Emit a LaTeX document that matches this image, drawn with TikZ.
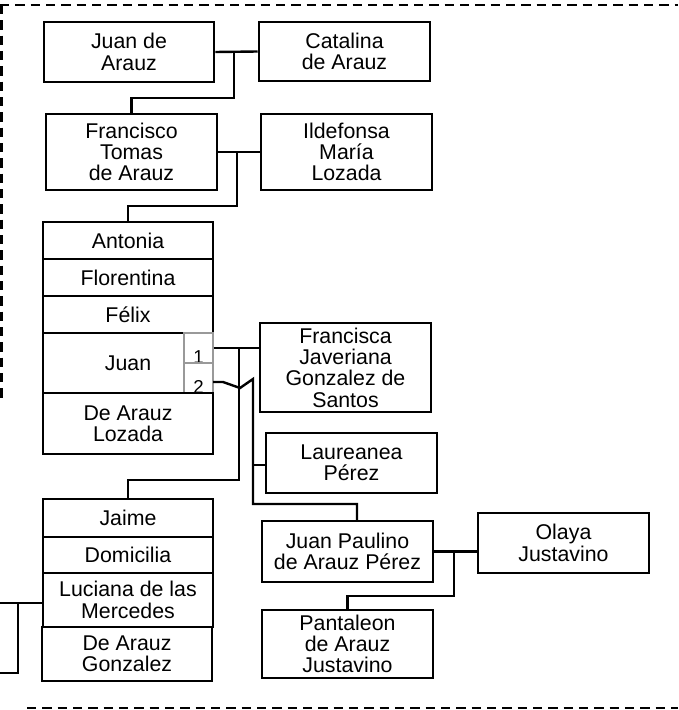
\documentclass[tikz,border=0pt]{standalone}
\usepackage{fontspec}
\setmainfont{Liberation Sans}
\usetikzlibrary{calc}
\begin{document}
\begin{tikzpicture}[x=0.75pt,y=-0.75pt,
  box/.style={draw, line width=1.9pt, inner sep=0pt, align=center, font=\fontsize{16}{16}\selectfont},
  sz/.style 2 args={minimum width={#1*0.75pt}, minimum height={#2*0.75pt}},
  conn/.style={line width=1.8pt},
  frame/.style={line width=1.8pt, dash pattern=on 7pt off 4.5pt},
  cell/.style={draw=gray!80, line width=1pt, inner sep=0pt, minimum width={29*0.75pt}, minimum height={30*0.75pt}},
  num/.style={font=\fontsize{14}{14}\selectfont, anchor=base, inner sep=0pt}]
\useasboundingbox (0,0) rectangle (678,710);

% frame
\draw[frame] (0,5) -- (678,5);
\draw[frame] (1.5,5) -- (1.5,403);
\draw[frame] (27,708) -- (678,708);

% boxes
\node[box, sz={170}{60}] (jda) at (129,52) {Juan de\\Arauz};
\node[box, sz={171}{59}] (cat) at (344.5,51.5) {Catalina\\de Arauz};
\node[box, sz={171}{76}] (fra) at (131.5,152) {Francisco\\Tomas\\de Arauz};
\node[box, sz={171}{76}] (ild) at (346.5,152) {Ildefonsa\\María\\Lozada};
\node[box, sz={170}{37}] (ant) at (128,240.5) {Antonia};
\node[box, sz={170}{37}] (flo) at (128,277.5) {Florentina};
\node[box, sz={170}{37}] (fel) at (128,314.5) {Félix};
\node[box, sz={170}{60}] (juan) at (128,363) {Juan};
\node[cell, label={[num]south:1}] (c1) at (198.5,348) {};
\node[cell, label={[num]south:2}] (c2) at (198.5,378) {};
\node[box, sz={170}{61}] (dal) at (128,423.5) {De Arauz\\Lozada};
\node[box, sz={171}{89}] (fjg) at (345.5,367.5) {Francisca\\Javeriana\\Gonzalez de\\Santos};
\node[box, sz={171}{60}] (lau) at (351.5,463) {Laureanea\\Pérez};
\node[box, sz={170}{38}] (jai) at (128,518) {Jaime};
\node[box, sz={170}{36}] (dom) at (128,555) {Domicilia};
\node[box, sz={170}{54}] (luc) at (128,600) {Luciana de las\\Mercedes};
\node[box, sz={170}{54}] (dag) at (127,654) {De Arauz\\Gonzalez};
\node[box, sz={171}{61}] (jpp) at (347.5,551.5) {Juan Paulino\\de Arauz Pérez};
\node[box, sz={171}{60}] (ola) at (563.5,543) {Olaya\\Justavino};
\node[box, sz={171}{68}] (pan) at (347.5,644) {Pantaleon\\de Arauz\\Justavino};

% connectors
\coordinate (m1) at (234,52);
\draw[conn] (jda.east) -- (cat.west);
\draw[conn] (m1) -- (234,98) -- (131.5,98) -- (fra.north);

\coordinate (m2) at (237,152);
\draw[conn] (fra.east) -- (ild.west);
\draw[conn] (m2) -- (237,206) -- (128,206) -- (ant.north);

\coordinate (m3) at (239,348);
\draw[conn] (c1.east) -- (c1.east -| fjg.west);
\draw[conn] (m3) -- (239,480) -- (128,480) -- (jai.north);

\coordinate (s2) at (213,382);
\coordinate (m4) at (253,465);
\draw[conn] (s2) -- (223,382) -- (240,388) -- (253,379) -- (253,504) -- (357,504) -- (357,521);
\draw[conn] (m4) -- (m4 -| lau.west);

\coordinate (m5) at (454,551.5);
\draw[conn] (jpp.east) -- (jpp.east -| ola.west);
\draw[conn] (m5) -- (454,596) -- (347.5,596) -- (pan.north);

\coordinate (lb1) at (0,603);
\coordinate (lb2) at (0,673);
\draw[conn] (lb1) -- (lb1 -| luc.west);
\draw[conn] (lb2) -- (18,673) -- (18,603);
\end{tikzpicture}
\end{document}
